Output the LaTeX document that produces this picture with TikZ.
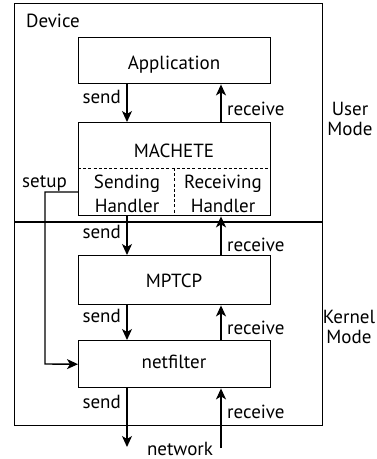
\documentclass[tikz,border=0pt]{standalone}
\usepackage{fontspec}
\setmainfont{PT Sans}
\usetikzlibrary{arrows.meta}
\begin{document}
\begin{tikzpicture}[x=1pt,y=-1pt,
  box/.style={draw,line width=1.4pt,minimum width=192pt,inner sep=0pt,anchor=north west},
  arr/.style={line width=1.4pt,-{Stealth[length=11pt,width=10pt,inset=3pt]}},
  lab/.style={inner sep=0pt,font=\fontsize{19}{21}\selectfont},
  dsh/.style={line width=1pt,dash pattern=on 3pt off 2.2pt}]
\useasboundingbox (0,0) rectangle (376,459);
% device frame
\node[draw,line width=1.4pt,minimum width=308pt,minimum height=422pt,inner sep=0pt,anchor=north west] (dev) at (14,3) {};
\coordinate (divy) at (0,222);
\draw[line width=1.4pt] (dev.west |- divy) -- (dev.east |- divy);
% boxes
\node[box,minimum height=46pt] (app) at (78,37) {};
\node[box,minimum height=93pt] (mach) at (78,122) {};
\node[box,minimum height=49pt] (mptcp) at (78,255) {};
\node[box,minimum height=47pt] (net) at (78,340) {};
% dashed separators
\coordinate (dy) at (0,168);
\draw[dsh] (mach.west |- dy) -- (mach.east |- dy);
\draw[dsh] (mach.center |- dy) -- (mach.south);
% box texts
\node[lab,anchor=base] (tapp) at (174,69) {Application};
\node[lab,anchor=base] (tmach) at (174,157) {MACHETE};
\node[lab,anchor=base] (tsend) at (127,188) {Sending};
\node[lab,anchor=base] (tsendh) at (127,212) {Handler};
\node[lab,anchor=base] (trecv) at (223,188) {Receiving};
\node[lab,anchor=base] (trecvh) at (223,212) {Handler};
\node[lab,anchor=base] (tmptcp) at (174,287) {MPTCP};
\node[lab,anchor=base] (tnet) at (174,368) {netfilter};
\node[lab,anchor=base] (tdev) at (53,27) {Device};
\node[lab,anchor=base] (tuser) at (350,115) {User};
\node[lab,anchor=base] (tumode) at (350,135) {Mode};
\node[lab,anchor=base] (tkern) at (349,323) {Kernel};
\node[lab,anchor=base] (tkmode) at (349,343) {Mode};
% arrow columns
\coordinate (sx) at (127,0);
\coordinate (rx) at (221,0);
\draw[arr] (app.south -| sx) -- (mach.north -| sx);
\draw[arr] (mach.north -| rx) -- (app.south -| rx);
\draw[arr] (mach.south -| sx) -- (mptcp.north -| sx);
\draw[arr] (mptcp.north -| rx) -- (mach.south -| rx);
\draw[arr] (mptcp.south -| sx) -- (net.north -| sx);
\draw[arr] (net.north -| rx) -- (mptcp.south -| rx);
\coordinate (out) at (127,447);
\coordinate (in) at (221,448);
\draw[arr] (net.south -| sx) -- (out);
\draw[arr] (in) -- (net.south -| rx);
% setup
\coordinate (sy) at (0,192);
\coordinate (sc) at (45,364);
\draw[arr] (mach.west |- sy) -| (sc) -- (net.west);
% labels
\node[lab,anchor=base east] (s1) at (121,103) {send};
\node[lab,anchor=base west] (r1) at (227,115) {receive};
\node[lab,anchor=base east] (s2) at (121,238) {send};
\node[lab,anchor=base west] (r2) at (227,251) {receive};
\node[lab,anchor=base east] (s3) at (121,322) {send};
\node[lab,anchor=base west] (r3) at (227,334) {receive};
\node[lab,anchor=base east] (s4) at (121,408) {send};
\node[lab,anchor=base west] (r4) at (227,418) {receive};
\node[lab,anchor=base east] (setup) at (67,187) {setup};
\node[lab,anchor=base] (network) at (180,455) {network};
\end{tikzpicture}
\end{document}
